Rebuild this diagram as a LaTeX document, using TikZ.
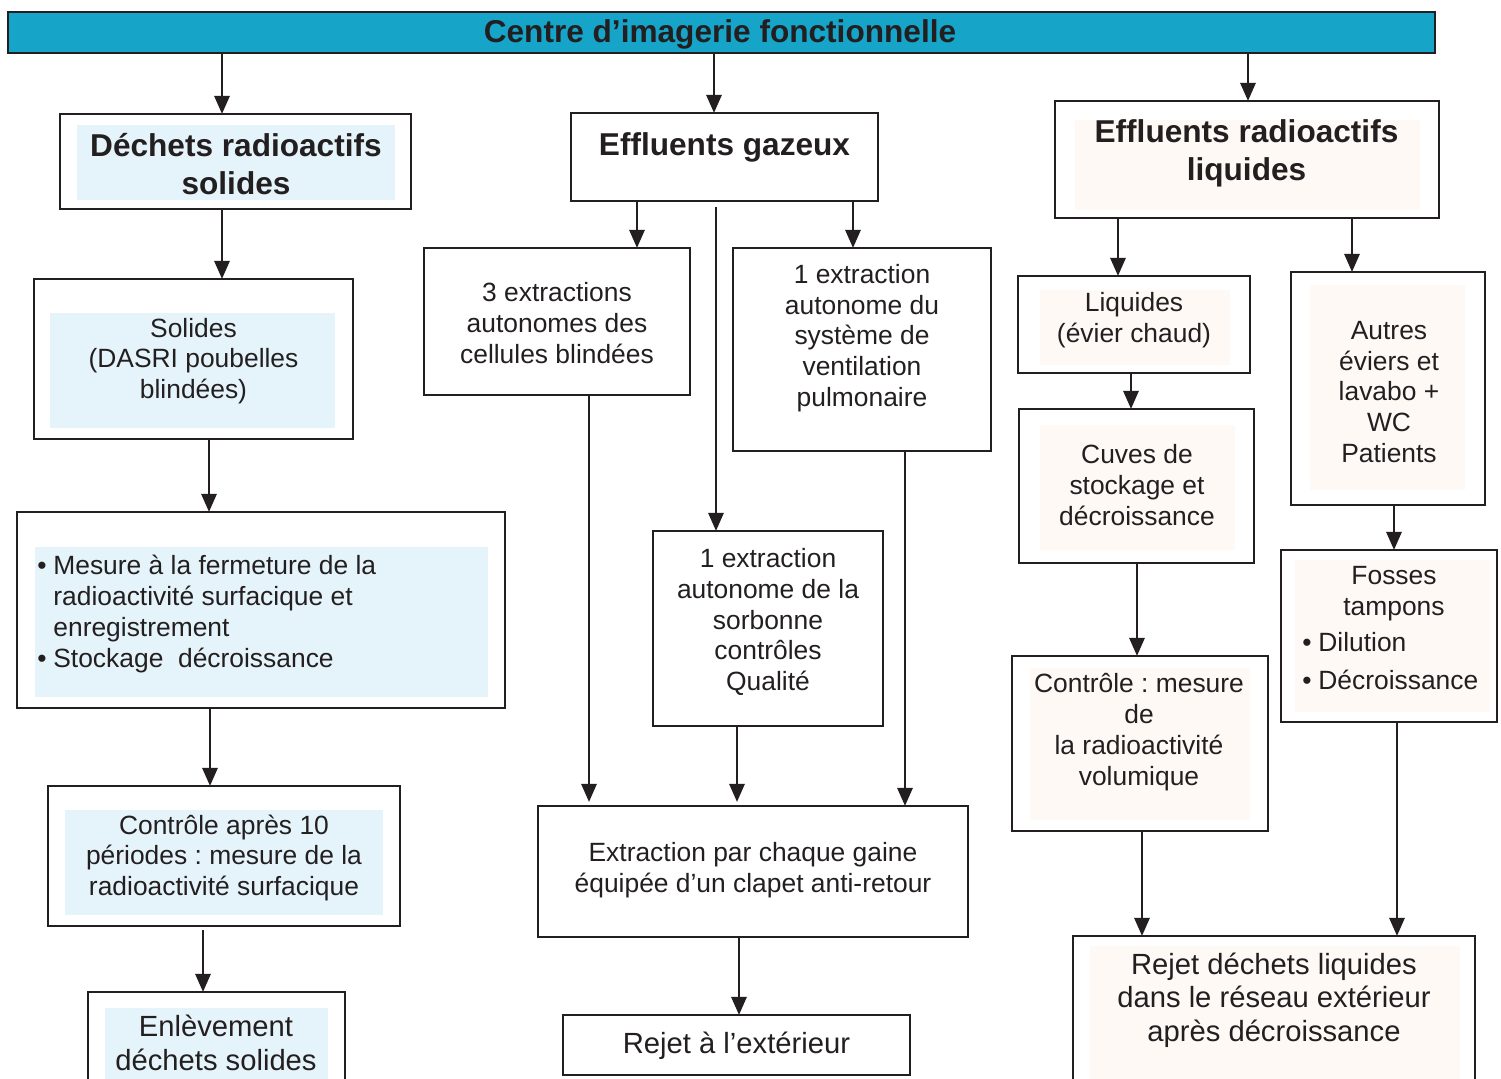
\documentclass[tikz,border=0pt]{standalone}
\usepackage{fontspec}
\setmainfont{Liberation Sans}
\usetikzlibrary{arrows.meta}
\definecolor{ink}{HTML}{231F20}
\definecolor{barblue}{RGB}{22,164,200}
\definecolor{paleblue}{HTML}{E5F4FA}
\definecolor{palepeach}{HTML}{FEF9F5}
\newcommand\fnorm{\fontsize{13.2}{15.4}\selectfont}
\newcommand\fbig{\fontsize{14.6}{16.7}\selectfont}
\newcommand\fbold{\fontsize{15.8}{19}\selectfont\bfseries}
\newcommand\bul{\makebox[8pt][l]{•}}
\newcommand\bx[6][]{\node[box,#1,minimum width={(#5-#3)*0.5pt},minimum height={(#6-#4)*0.5pt}] (#2) at ({(#3+#5)/2},{(#4+#6)/2}) {};}
\frenchspacing
\begin{document}
\begin{tikzpicture}[x={(0.5pt,0pt)},y={(0pt,-0.5pt)},
  box/.style={draw=ink,line width=1.35pt,inner sep=0pt,outer sep=0pt},
  txt/.style={font=\fnorm,text=ink,align=center,inner sep=0pt},
  bigtxt/.style={txt,font=\fbig},
  boldtxt/.style={txt,font=\fbold},
  arr/.style={draw=ink,line width=1.35pt,-{Triangle[width=7.5pt,length=9pt]}}]
\useasboundingbox (0,0) rectangle (1501,1079);
\fill[white] (0,0) rectangle (1501,1079);
% inner tints
\fill[paleblue] (77,125) rectangle (395,200);
\fill[paleblue] (50,313) rectangle (335,428);
\fill[paleblue] (35,547) rectangle (488,697);
\fill[paleblue] (65,810) rectangle (383,915);
\fill[paleblue] (105,1008) rectangle (328,1085);
\fill[palepeach] (1075,120) rectangle (1420,210);
\fill[palepeach] (1040,290) rectangle (1230,365);
\fill[palepeach] (1040,425) rectangle (1235,550);
\fill[palepeach] (1310,285) rectangle (1465,490);
\fill[palepeach] (1295,560) rectangle (1490,712);
\fill[palepeach] (1030,668) rectangle (1250,820);
\fill[palepeach] (1090,946) rectangle (1460,1085);
% boxes
\bx[fill=barblue]{title}{8}{12}{1435}{53}
\bx{a1}{60}{114}{411}{209}
\bx{a2}{34}{279}{353}{439}
\bx{a3}{17}{512}{505}{708}
\bx{a4}{48}{786}{400}{926}
\bx{a5}{88}{992}{345}{1095}
\bx{b1}{571}{113}{878}{201}
\bx{b2}{424}{248}{690}{395}
\bx{b3}{733}{248}{991}{451}
\bx{b4}{653}{531}{883}{726}
\bx{b5}{538}{806}{968}{937}
\bx{b6}{563}{1015}{910}{1075}
\bx{c1}{1055}{101}{1439}{218}
\bx{c2}{1018}{276}{1250}{373}
\bx{c3}{1019}{409}{1254}{563}
\bx{c4}{1291}{272}{1485}{505}
\bx{c5}{1281}{550}{1497}{722}
\bx{c6}{1012}{656}{1268}{831}
\bx{c7}{1073}{936}{1475}{1095}
% texts
\node[boldtxt] (titlet) at (720,34) {Centre d’imagerie fonctionnelle};
\node[boldtxt] (a1t) at (236,164) {Déchets radioactifs\\solides};
\node[txt] (a2t) at (193.5,361) {Solides\\(DASRI poubelles\\blindées)};
\node[txt,align=left,anchor=west] (a3t) at (37,614) {\bul Mesure à la fermeture de la\\\hspace*{8pt}radioactivité surfacique et\\\hspace*{8pt}enregistrement\\\bul Stockage\ \ décroissance};
\node[txt] (a4t) at (224,858) {Contrôle après 10\\périodes : mesure de la\\radioactivité surfacique};
\node[bigtxt] (a5t) at (216,1043) {Enlèvement\\déchets solides};
\node[boldtxt] (b1t) at (724.5,147) {Effluents gazeux};
\node[txt] (b2t) at (557,323) {3 extractions\\autonomes des\\cellules blindées};
\node[txt] (b3t) at (862,338) {1 extraction\\autonome du\\système de\\ventilation\\pulmonaire};
\node[txt] (b4t) at (768,622) {1 extraction\\autonome de la\\sorbonne\\contrôles\\Qualité};
\node[txt] (b5t) at (753,870) {Extraction par chaque gaine\\équipée d’un clapet anti-retour};
\node[bigtxt] (b6t) at (736.5,1046) {Rejet à l’extérieur};
\node[boldtxt] (c1t) at (1246.5,153) {Effluents radioactifs\\liquides};
\node[txt] (c2t) at (1134,320) {Liquides\\(évier chaud)};
\node[txt] (c3t) at (1137,485) {Cuves de\\stockage et\\décroissance};
\node[txt] (c4t) at (1389,392) {Autres\\éviers et\\lavabo +\\WC\\Patients};
\node[txt] (c5t) at (1394,594) {Fosses\\tampons};
\node[txt,align=left,anchor=west] (c5b) at (1302,661) {\bul Dilution\\[3.5pt]\bul Décroissance};
\node[txt] (c6t) at (1139,732) {Contrôle : mesure\\de\\la radioactivité\\volumique};
\node[bigtxt] (c7t) at (1274,1000) {Rejet déchets liquides\\dans le réseau extérieur\\après décroissance};
% connectors
\draw[arr] (title.south -| 222,0) -- (a1.north -| 222,0);
\draw[arr] (title.south -| 714,0) -- (b1.north -| 714,0);
\draw[arr] (title.south -| 1248,0) -- (c1.north -| 1248,0);
\draw[arr] (a1.south -| 222,0) -- (a2.north -| 222,0);
\draw[arr] (a2.south -| 209,0) -- (a3.north -| 209,0);
\draw[arr] (a3.south -| 210,0) -- (a4.north -| 210,0);
\draw[arr,shorten <=2pt] (a4.south -| 203,0) -- (a5.north -| 203,0);
\draw[arr] (b1.south -| 637,0) -- (b2.north -| 637,0);
\draw[arr] (b1.south -| 853,0) -- (b3.north -| 853,0);
\draw[arr,shorten <=3pt] (b1.south -| 716,0) -- (b4.north -| 716,0);
\draw[arr,shorten >=2pt] (b2.south -| 589,0) -- (b5.north -| 589,0);
\draw[arr,shorten >=2pt] (b4.south -| 737,0) -- (b5.north -| 737,0);
\draw[arr] (b3.south -| 905,0) -- (b5.north -| 905,0);
\draw[arr] (b5.south -| 739,0) -- (b6.north -| 739,0);
\draw[arr] (c1.south -| 1118,0) -- (c2.north -| 1118,0);
\draw[arr] (c1.south -| 1352,0) -- (c4.north -| 1352,0);
\draw[arr] (c2.south -| 1131,0) -- (c3.north -| 1131,0);
\draw[arr] (c3.south -| 1137,0) -- (c6.north -| 1137,0);
\draw[arr] (c4.south -| 1394,0) -- (c5.north -| 1394,0);
\draw[arr] (c6.south -| 1142,0) -- (c7.north -| 1142,0);
\draw[arr] (c5.south -| 1397,0) -- (c7.north -| 1397,0);
\end{tikzpicture}
\end{document}
